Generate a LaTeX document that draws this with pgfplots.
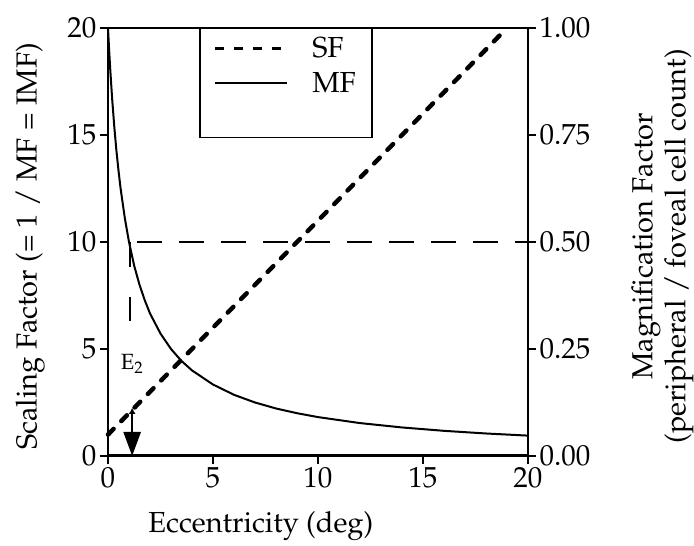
\documentclass[border=0pt]{standalone}
\usepackage[T1]{fontenc}
\usepackage{mathpazo}
\usepackage{pgfplots}
\pgfplotsset{compat=1.18}
\usetikzlibrary{arrows.meta}

\pgfplotstableread{
x    sf
0    1
19   20
}\sfdata

\pgfplotstableread{
x     mf
0     1
0.05  0.952
0.1   0.909
0.15  0.870
0.2   0.833
0.3   0.769
0.4   0.714
0.5   0.667
0.6   0.625
0.8   0.556
1     0.5
1.25  0.444
1.5   0.4
1.75  0.364
2     0.333
2.5   0.286
3     0.25
3.5   0.222
4     0.2
5     0.167
6     0.143
7     0.125
8     0.111
9     0.1
10    0.0909
12    0.0769
14    0.0667
16    0.0588
18    0.0526
20    0.0476
}\mfdata

\begin{document}
\begin{tikzpicture}
\path[use as bounding box] (-108pt,-90pt) rectangle (586pt,456pt);
\pgfplotsset{
  every axis/.append style={font=\fontsize{29}{33}\selectfont},
  every tick label/.append style={font=\fontsize{29}{33}\selectfont},
}
% Left axis: scaling factor
\begin{axis}[
  width=420pt, height=428pt, scale only axis,
  xmin=0, xmax=20, ymin=0, ymax=20,
  xtick={0,5,10,15,20}, ytick={0,5,10,15,20},
  xtick pos=bottom, ytick pos=left,
  tick align=outside, major tick length=8pt,
  tick style={line width=1.5pt, black},
  axis x line*=bottom, axis y line*=left,
  x axis line style={line width=3pt, -},
  y axis line style={line width=2.5pt, -},
  xlabel={Eccentricity (deg)},
  ylabel={Scaling Factor (= 1 / MF = IMF)},
  xlabel style={at={(axis description cs:0.364,-0.163)}, anchor=center},
  ylabel style={at={(axis description cs:-0.185,0.49)}, anchor=center},
  clip=false,
]
% scaling factor, thick dashed
\addplot[line width=4.5pt, line cap=round, dash pattern=on 8pt off 11pt] table[x=x,y=sf] {\sfdata};
% half-value reference at SF = 10
\addplot[line width=1.6pt, dash pattern=on 25pt off 17pt] coordinates {(1.4,10) (20,10)};
\addplot[line width=1.6pt, dash pattern=on 25pt off 30pt] coordinates {(1.05,10) (1.05,6.3)};
% E2 marker
\addplot[line width=2.5pt, {Latex[length=6pt,width=7pt]}-{Triangle[length=24pt,width=17pt]}] coordinates {(1.15,2.25) (1.15,0)};
\node[font=\fontsize{22}{24}\selectfont, anchor=center] at (axis cs:1.15,4.3) {E\textsubscript{2}};
\end{axis}

% Right axis: magnification factor
\begin{axis}[
  width=420pt, height=428pt, scale only axis,
  xmin=0, xmax=20, ymin=0, ymax=1,
  xtick=\empty, ytick={0,0.25,0.5,0.75,1},
  ytick pos=right,
  tick align=outside, major tick length=8pt,
  tick style={line width=1.5pt, black},
  axis line style={line width=1.6pt},
  yticklabel style={/pgf/number format/.cd, fixed, fixed zerofill, precision=2},
  ylabel={Magnification Factor\\(peripheral / foveal cell count)},
  ylabel style={at={(axis description cs:1.32,0.49)}, anchor=center, align=center},
  legend style={at={(rel axis cs:0.2167,1)}, anchor=north west, draw=black, line width=1.5pt,
    inner xsep=14pt, inner ysep=7pt, row sep=9pt,
    font=\fontsize{29}{33}\selectfont},
  legend cell align=left,
  legend image code/.code={\draw[#1] (0pt,0pt) -- (72pt,0pt);},
  /tikz/every odd column/.append style={column sep=22pt},
]
\addlegendimage{line width=2.5pt, dash pattern=on 9pt off 10pt}
\addlegendentry{SF}
\addplot[line width=2pt] table[x=x,y=mf] {\mfdata};
\addlegendentry{MF\hspace{18pt}}
\addlegendimage{empty legend}
\addlegendentry{\phantom{MF}}
\end{axis}
\end{tikzpicture}
\end{document}
